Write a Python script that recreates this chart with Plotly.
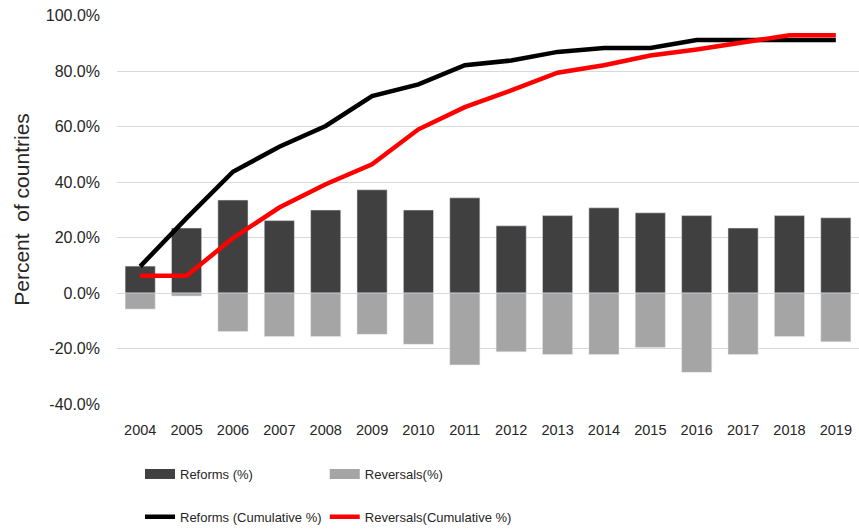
import plotly.graph_objects as go

years = [str(y) for y in range(2004, 2020)]

reforms = [9.7, 23.4, 33.5, 26.1, 29.9, 37.2, 29.9, 34.3, 24.2, 27.9, 30.7, 28.9, 27.9, 23.4, 27.9, 27.1]
reversals = [-5.8, -1.1, -13.9, -15.7, -15.7, -14.9, -18.5, -25.9, -21.2, -22.2, -22.2, -19.6, -28.6, -22.2, -15.7, -17.6]
reforms_cum = [9.6, 27.0, 43.7, 52.7, 60.2, 71.0, 75.2, 82.1, 83.8, 86.9, 88.3, 88.3, 91.2, 91.2, 91.2, 91.2]
reversals_cum = [6.2, 6.2, 19.8, 30.8, 39.2, 46.4, 59.0, 67.0, 73.0, 79.4, 82.1, 85.6, 87.8, 90.5, 92.9, 92.9]

ytick_vals = [-40, -20, 0, 20, 40, 60, 80, 100]
ytick_text = ["-40.0%", "-20.0%", "0.0%", "20.0%", "40.0%", "60.0%", "80.0%", "100.0%"]

FONT = "Liberation Sans"
DARK = "#404040"
LIGHT = "#a5a5a5"

fig = go.Figure()

# bars (legend shown through wide proxy entries below)
fig.add_trace(go.Bar(x=years, y=reforms, marker_color=DARK, showlegend=False,
                     legendgroup="ref", name="Reforms (%)"))
fig.add_trace(go.Bar(x=years, y=reversals, marker_color=LIGHT, showlegend=False,
                     legendgroup="rev", name="Reversals(%)"))

fig.add_trace(go.Scatter(x=years, y=reforms_cum, mode="lines", name="Reforms (Cumulative %)",
                         line=dict(color="black", width=4.5), legend="legend3"))
fig.add_trace(go.Scatter(x=years, y=reversals_cum, mode="lines", name="Reversals(Cumulative %)",
                         line=dict(color="#ff0000", width=4.5), legend="legend4"))

# legend proxies so bar swatches look like wide rectangles
fig.add_trace(go.Scatter(x=[None], y=[None], mode="lines", name="Reforms (%)",
                         line=dict(color=DARK, width=16), legendgroup="ref", legend="legend"))
fig.add_trace(go.Scatter(x=[None], y=[None], mode="lines", name="Reversals(%)",
                         line=dict(color=LIGHT, width=16), legendgroup="rev", legend="legend2"))

leg = dict(orientation="h", xanchor="left", yanchor="middle", font=dict(size=13),
           bgcolor="rgba(0,0,0,0)")

fig.update_layout(
    width=859, height=532,
    margin=dict(l=117, r=0, t=15, b=128),
    plot_bgcolor="white", paper_bgcolor="white",
    barmode="relative", bargap=0.35,
    font=dict(family=FONT, size=15, color="#262626"),
    legend=dict(leg, x=0.031, y=-0.18),
    legend2=dict(leg, x=0.280, y=-0.18),
    legend3=dict(leg, x=0.031, y=-0.29),
    legend4=dict(leg, x=0.280, y=-0.29),
)

fig.update_xaxes(type="category", showgrid=False, showline=False, ticks="",
                 tickfont=dict(size=14.5), ticklabelstandoff=15, automargin=False)
# top a hair above 100 so the 100% gridline is drawn
fig.update_yaxes(range=[-40, 100.2], tickvals=ytick_vals, ticktext=ytick_text,
                 showgrid=True, gridcolor="#d9d9d9", gridwidth=1,
                 zeroline=True, zerolinecolor="#d9d9d9", zerolinewidth=1,
                 tickfont=dict(size=16), ticklabelstandoff=16, automargin=False,
                 title=dict(text="Percent  of countries", font=dict(size=21), standoff=10))

# drop the browser's default body margin so the figure sits at the page corner
fig.write_html("out.html", config={"displayModeBar": False},
               post_script="document.body.style.margin='0px';")
